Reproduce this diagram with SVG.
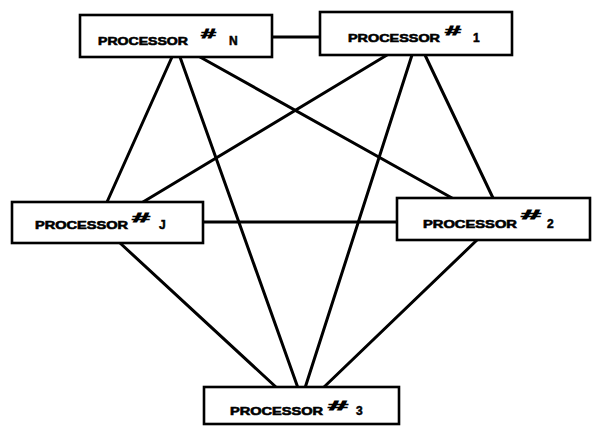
<svg xmlns="http://www.w3.org/2000/svg" width="597" height="445" viewBox="0 0 597 445">
<style>
.box{fill:#fff;stroke:#000;stroke-width:2.6}
.conn line{stroke:#000;stroke-width:3;stroke-linecap:round}
.lbl{font-family:"Liberation Sans",Arial,sans-serif;font-weight:bold;font-size:11px;fill:#000;stroke:#000;stroke-width:0.6}
.sh{font-family:"Liberation Sans",Arial,sans-serif;font-weight:bold;font-size:13px;fill:#000;stroke:#000;stroke-width:0.8}
.num{font-family:"Liberation Sans",Arial,sans-serif;font-weight:bold;font-size:12px;fill:#000;stroke:#000;stroke-width:0.5}
</style>
<rect width="597" height="445" fill="#fff"/>
<g id="connectors" class="conn">
<line x1="272" y1="37" x2="320" y2="37"/>
<line x1="172" y1="57" x2="107" y2="202"/>
<line x1="180" y1="57" x2="298" y2="388"/>
<line x1="200" y1="57" x2="452" y2="198"/>
<line x1="387" y1="55" x2="143" y2="202"/>
<line x1="412" y1="55" x2="305" y2="388"/>
<line x1="425" y1="55" x2="493" y2="198"/>
<line x1="203" y1="222" x2="397" y2="222"/>
<line x1="120" y1="243" x2="277" y2="388"/>
<line x1="477" y1="240" x2="323" y2="388"/>
</g>
<g id="node-n">
<rect class="box" x="80" y="15" width="192" height="42"/>
<text class="lbl" x="98" y="45" textLength="90" lengthAdjust="spacingAndGlyphs">PROCESSOR</text>
<text class="sh" x="201" y="38" textLength="15" lengthAdjust="spacingAndGlyphs">#</text>
<text class="num" x="229" y="45">N</text>
</g>
<g id="node-1">
<rect class="box" x="320" y="12" width="192" height="43"/>
<text class="lbl" x="348" y="42" textLength="92" lengthAdjust="spacingAndGlyphs">PROCESSOR</text>
<text class="sh" x="445" y="35" textLength="16" lengthAdjust="spacingAndGlyphs">#</text>
<text class="num" x="473" y="42">1</text>
</g>
<g id="node-j">
<rect class="box" x="12" y="202" width="191" height="41"/>
<text class="lbl" x="35" y="229" textLength="93" lengthAdjust="spacingAndGlyphs">PROCESSOR</text>
<text class="sh" x="132" y="222" textLength="18" lengthAdjust="spacingAndGlyphs">#</text>
<text class="num" x="159" y="229">J</text>
</g>
<g id="node-2">
<rect class="box" x="397" y="198" width="193" height="42"/>
<text class="lbl" x="423" y="228" textLength="94" lengthAdjust="spacingAndGlyphs">PROCESSOR</text>
<text class="sh" x="521" y="219" textLength="20" lengthAdjust="spacingAndGlyphs">#</text>
<text class="num" x="547" y="228">2</text>
</g>
<g id="node-3">
<rect class="box" x="204" y="387" width="195" height="37"/>
<text class="lbl" x="230" y="415" textLength="93" lengthAdjust="spacingAndGlyphs">PROCESSOR</text>
<text class="sh" x="328" y="410" textLength="20" lengthAdjust="spacingAndGlyphs">#</text>
<text class="num" x="356" y="415">3</text>
</g>
</svg>
